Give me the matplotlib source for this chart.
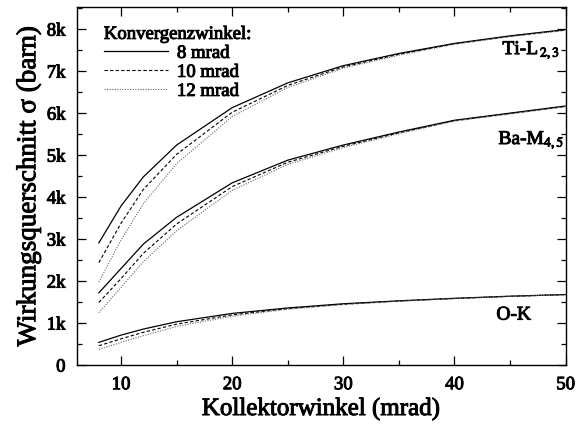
import numpy as np
import matplotlib
matplotlib.use("Agg")
import matplotlib.pyplot as plt
import matplotlib.patheffects as pe
from matplotlib.ticker import MultipleLocator, FuncFormatter

plt.rcParams['font.family'] = ['Liberation Serif', 'DejaVu Serif']
plt.rcParams['mathtext.fontset'] = 'stix'

# Kollektorwinkel (mrad)
winkel = [8, 10, 12, 15, 20, 25, 30, 35, 40, 45, 50]

# Ti-L2,3 fuer 8 / 10 / 12 mrad Konvergenzwinkel
ti_8 = [2910, 3790, 4480, 5240, 6130, 6720, 7130, 7420, 7660, 7840, 7990]
ti_10 = [2440, 3380, 4180, 5020, 6020, 6660, 7100, 7400, 7650, 7830, 7980]
ti_12 = [1980, 2980, 3840, 4800, 5920, 6610, 7070, 7380, 7640, 7820, 7970]

# Ba-M4,5
ba_8 = [1720, 2300, 2880, 3520, 4340, 4880, 5240, 5550, 5830, 6000, 6170]
ba_10 = [1490, 2060, 2660, 3360, 4250, 4830, 5210, 5530, 5820, 5990, 6160]
ba_12 = [1250, 1850, 2460, 3200, 4160, 4780, 5180, 5510, 5810, 5980, 6150]

# O-K
o_8 = [540, 714, 857, 1032, 1230, 1360, 1460, 1530, 1590, 1640, 1680]
o_10 = [460, 625, 780, 975, 1195, 1345, 1450, 1525, 1585, 1637, 1678]
o_12 = [373, 540, 700, 920, 1165, 1330, 1440, 1520, 1582, 1635, 1676]

legende = ["8 mrad", "10 mrad", "12 mrad"]

# etwas kraeftigere Schrift wie im Original
fett = [pe.withStroke(linewidth=0.7, foreground='black')]

fig = plt.figure(figsize=(5.76, 4.29), dpi=100)
ax = fig.add_axes([0.133, 0.149, 0.849, 0.834])

stile = [dict(color='black', lw=0.9, ls='-'),
         dict(color='black', lw=0.8, ls=(0, (3, 2))),
         dict(color='0.4', lw=0.8, ls=(0, (1, 1.3)))]

for daten in [(ti_8, ti_10, ti_12), (ba_8, ba_10, ba_12), (o_8, o_10, o_12)]:
    for i, werte in enumerate(daten):
        ax.plot(winkel, werte, label=legende[i] if daten[0] is ti_8 else None, **stile[i])

ax.set_xlim(6, 50)
ax.set_ylim(0, 8520)
ax.xaxis.set_major_locator(MultipleLocator(10))
ax.xaxis.set_minor_locator(MultipleLocator(5))
ax.yaxis.set_major_locator(MultipleLocator(1000))
ax.yaxis.set_minor_locator(MultipleLocator(500))
ax.yaxis.set_major_formatter(FuncFormatter(lambda v, p: '0' if v == 0 else '%dk' % round(v / 1000)))
ax.tick_params(which='both', direction='in', top=True, right=True, labelsize=13.5, width=0.9)
ax.tick_params(which='major', length=6.5, pad=8)
ax.tick_params(which='minor', length=3.6)
for s in ax.spines.values():
    s.set_linewidth(1.0)

ax.set_xlabel("Kollektorwinkel (mrad)", fontsize=18, labelpad=3, path_effects=fett)
ax.set_ylabel("Wirkungsquerschnitt σ (barn)", fontsize=19.5, labelpad=4, path_effects=fett)

ax.text(49.5, 7500, r'Ti-L$_{\,2,3}$', fontsize=14, ha='right', va='center', path_effects=fett)
ax.text(49.9, 5360, r'Ba-M$_{4,5}$', fontsize=14, ha='right', va='center', path_effects=fett)
ax.text(46.9, 1190, 'O-K', fontsize=14, ha='right', va='center', path_effects=fett)

leg = ax.legend(title="Konvergenzwinkel:", loc='upper left', frameon=False,
                bbox_to_anchor=(0.025, 0.99),
                fontsize=13.5, title_fontsize=13.5, handlelength=3.4, handletextpad=0.5,
                labelspacing=0.1, borderaxespad=0.4, alignment='left')
for t in leg.get_texts() + [leg.get_title()]:
    t.set_path_effects(fett)
for t in ax.get_xticklabels() + ax.get_yticklabels():
    t.set_path_effects(fett)

fig.savefig("out.png", dpi=100)
